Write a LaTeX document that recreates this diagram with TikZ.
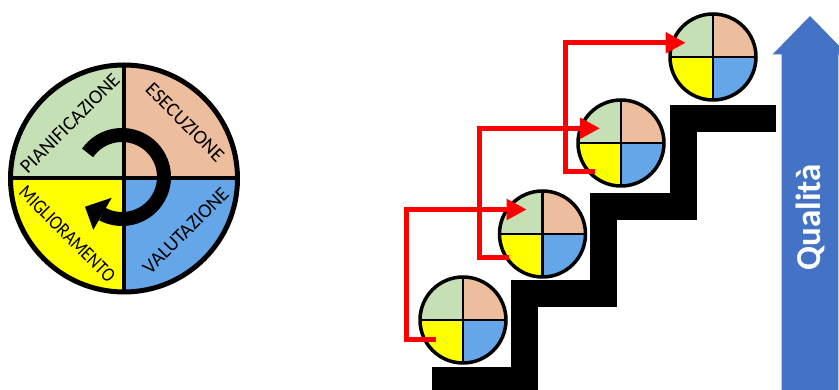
\documentclass[tikz,border=0pt]{standalone}
\usepackage{fontspec}
\setmainfont{Carlito}
\usetikzlibrary{arrows.meta}
\definecolor{qgreen}{HTML}{C5E0B4}
\definecolor{qpeach}{HTML}{EDBE9E}
\definecolor{qyellow}{HTML}{FFFF00}
\definecolor{qblue}{HTML}{64A6E8}
\definecolor{qualblue}{HTML}{4472C4}
\newcommand\pdcaDisc[4]{%
  \fill[qgreen] (#1) -- ++(90:#2) arc[start angle=90,end angle=180,radius=#2] -- cycle;
  \fill[qpeach] (#1) -- ++(0:#2) arc[start angle=0,end angle=90,radius=#2] -- cycle;
  \fill[qyellow] (#1) -- ++(180:#2) arc[start angle=180,end angle=270,radius=#2] -- cycle;
  \fill[qblue] (#1) -- ++(270:#2) arc[start angle=270,end angle=360,radius=#2] -- cycle;
  \draw[line width=#4] (#1) ++(-#2,0) -- ++(2*#2,0);
  \draw[line width=#4] (#1) ++(0,-#2) -- ++(0,2*#2);
  \draw[line width=#3] (#1) circle[radius=#2];
}
\begin{document}
\begin{tikzpicture}[x=1pt,y=1pt,
  redarrow/.style={draw=red, line width=5pt, -{Triangle[width=20pt,length=20pt]}, line join=miter},
  lbl/.style={font=\fontsize{20}{20}\selectfont, inner sep=0pt, text=black},
  stair/.style={line width=27pt, black, line join=miter, line cap=butt},
  disc/.style={circle, inner sep=0pt, minimum size=#1}]
\useasboundingbox (0,0) rectangle (839,390);
\clip (0,0) rectangle (839,390);

% big PDCA disc
\node[disc=232pt] (pdca) at (124,211.5) {};
\pdcaDisc{pdca.center}{113.5}{5pt}{4pt}
\draw[line width=14pt] (122,213) ++(145:42) arc[start angle=145, end angle=-118, radius=42];
\fill (85,183.3) -- (111.7,192.2) -- (93.3,160.2) -- cycle;
\node[lbl, rotate=45] (tplan) at (70,266.7) {PIANIFICAZIONE};
\node[lbl, rotate=-45] (texec) at (185,267.7) {ESECUZIONE};
\node[lbl, rotate=-45, xscale=0.87] (timpr) at (67.3,156) {MIGLIORAMENTO};
\node[lbl, rotate=45] (teval) at (185.7,159.3) {VALUTAZIONE};

% staircase
\draw[stair] (431.7,9.8) -- (524,9.8) -- (524,96) -- (603.7,96) -- (603.7,183.3)
  -- (683,183.3) -- (683,271.2) -- (776,271.2);

% small discs
\node[disc=89pt] (s1) at (463,70) {};
\node[disc=89pt] (s2) at (542.5,156) {};
\node[disc=89pt] (s3) at (621,247) {};
\node[disc=89pt] (s4) at (713,333) {};
\pdcaDisc{s1.center}{43}{3.5pt}{2.5pt}
\pdcaDisc{s2.center}{43}{3.5pt}{2.5pt}
\pdcaDisc{s3.center}{43}{3.5pt}{2.5pt}
\pdcaDisc{s4.center}{43}{3.5pt}{2.5pt}

% red arrows
\coordinate (a1s) at (436,50.5);
\coordinate (a1t) at (526.7,180.5);
\coordinate (a2s) at (509.3,132.2);
\coordinate (a2t) at (600,261.7);
\coordinate (a3s) at (595,218.2);
\coordinate (a3t) at (685.7,347.2);
\draw[redarrow] (a1s) -- (406.8,50.5) -- (406.8,180.5) -- (a1t);
\draw[redarrow] (a2s) -- (479.2,132.2) -- (479.2,261.7) -- (a2t);
\draw[redarrow] (a3s) -- (565.2,218.2) -- (565.2,347.2) -- (a3t);

% quality arrow
\fill[qualblue] (781.7,-5) -- (781.7,335.7) -- (772.7,335.7) -- (810,374)
  -- (847.3,335.7) -- (838.3,335.7) -- (838.3,-5) -- cycle;
\node[font=\fontsize{35}{35}\selectfont\bfseries, text=white, rotate=90, inner sep=0pt]
  (qual) at (810.5,172.5) {Qualità};
\end{tikzpicture}
\end{document}
